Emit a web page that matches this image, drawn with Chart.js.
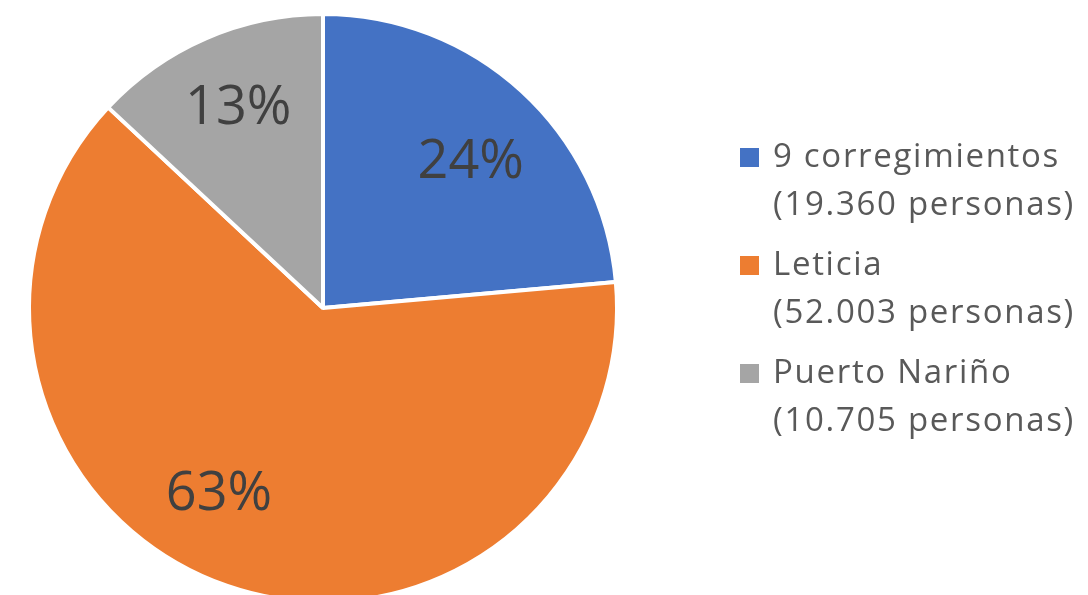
<!DOCTYPE html>
<html>
<head>
<meta charset="utf-8">
<script src="https://cdn.jsdelivr.net/npm/chart.js@4/dist/chart.umd.min.js"></script>
<style>
  html, body { margin: 0; padding: 0; background: #ffffff; overflow: hidden; }
  #wrap { position: relative; width: 1088px; height: 610px; }
</style>
</head>
<body>
<div id="wrap"><canvas id="c"></canvas></div>
<script>
// ---- data ----
const categories = ['9 corregimientos', 'Leticia', 'Puerto Nariño'];
const personas = [19360, 52003, 10705];
const personasText = ['19.360', '52.003', '10.705'];
const colors = ['#4472C4', '#ED7D31', '#A5A5A5'];

const total = personas.reduce((a, b) => a + b, 0);
const percentLabels = personas.map(v => Math.round(v / total * 100) + '%');
const legendLines = categories.map((c, i) => [c, '(' + personasText[i] + ' personas)']);

// ---- percent labels inside slices ----
const sliceLabels = {
  id: 'sliceLabels',
  afterDatasetsDraw(chart, args, opts) {
    const ctx = chart.ctx;
    const meta = chart.getDatasetMeta(0);
    ctx.save();
    ctx.font = opts.size + 'px "Open Sans"';
    ctx.fillStyle = opts.color;
    ctx.textAlign = 'center';
    ctx.textBaseline = 'alphabetic';
    meta.data.forEach((arc, i) => {
      const p = arc.getProps(['x', 'y', 'startAngle', 'endAngle', 'outerRadius'], true);
      const mid = (p.startAngle + p.endAngle) / 2 + opts.angleShift[i] * Math.PI / 180;
      const r = p.outerRadius * opts.radial[i];
      const cx = p.x + Math.cos(mid) * r;
      const cy = p.y + Math.sin(mid) * r;
      ctx.fillText(percentLabels[i], cx, cy + opts.size * 0.357);
    });
    ctx.restore();
  }
};

// ---- legend on the right (two lines per entry) ----
const sideLegend = {
  id: 'sideLegend',
  afterDraw(chart, args, opts) {
    const ctx = chart.ctx;
    ctx.save();
    ctx.font = opts.size + 'px "Open Sans"';
    ctx.textAlign = 'left';
    ctx.textBaseline = 'alphabetic';
    if ('letterSpacing' in ctx) ctx.letterSpacing = opts.letterSpacing + 'px';
    const ds = chart.data.datasets[0];
    chart.data.labels.forEach((lab, i) => {
      const base = opts.firstBaseline + i * opts.itemGap;
      ctx.fillStyle = ds.backgroundColor[i];
      ctx.fillRect(opts.boxX, base - opts.boxSize, opts.boxSize, opts.boxSize);
      ctx.fillStyle = opts.color;
      legendLines[i].forEach((line, j) => {
        ctx.fillText(line, opts.textX, base + j * opts.lineGap);
      });
    });
    ctx.restore();
  }
};

new Chart(document.getElementById('c'), {
  type: 'pie',
  data: {
    labels: categories,
    datasets: [{
      data: personas,
      backgroundColor: colors,
      borderColor: '#ffffff',
      borderWidth: 4
    }]
  },
  options: {
    responsive: true,
    maintainAspectRatio: false,
    animation: false,
    layout: { padding: { left: 27, top: 12, right: 469, bottom: 6 } },
    plugins: {
      legend: { display: false },
      tooltip: { enabled: false },
      sliceLabels: {
        size: 54,
        color: '#404040',
        radial: [0.714, 0.714, 0.748],
        angleShift: [2.3, 10.7, 0.8]
      },
      sideLegend: {
        size: 33,
        letterSpacing: 1.7,
        color: '#595959',
        boxX: 740,
        boxSize: 19,
        textX: 773,
        firstBaseline: 167,
        lineGap: 48,
        itemGap: 108
      }
    }
  },
  plugins: [sliceLabels, sideLegend]
});
</script>
</body>
</html>
